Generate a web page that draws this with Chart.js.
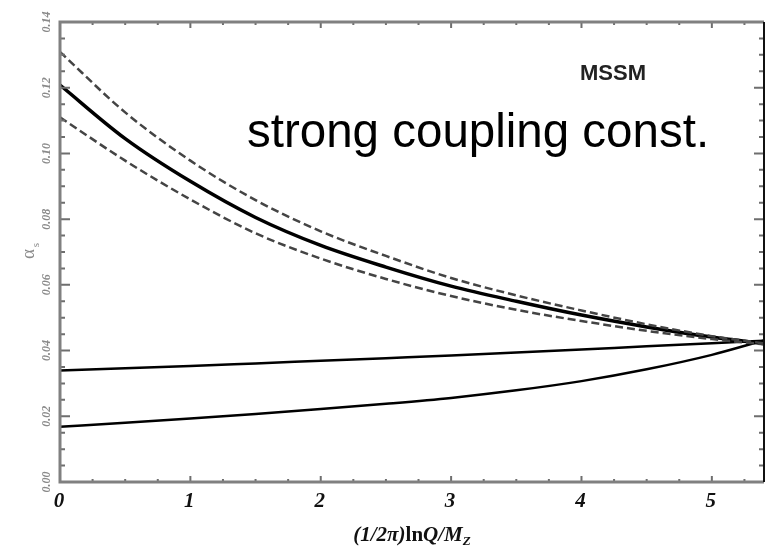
<!DOCTYPE html>
<html>
<head>
<meta charset="utf-8">
<script src="https://cdn.jsdelivr.net/npm/chart.js@4.4.0/dist/chart.umd.min.js"></script>
<style>
  html, body { margin: 0; padding: 0; background: #fff; }
  #wrap { width: 771px; height: 548px; }
</style>
</head>
<body>
<div id="wrap"><canvas id="chart" width="771" height="548"></canvas></div>
<script>
// Data: x = (1/2pi) ln Q/M_Z
const xValues = [0, 0.5, 1, 1.5, 2, 2.5, 3, 3.5, 4, 4.5, 5, 5.4];

// strong coupling (central value and its error band)
const alphaS      = [0.1208, 0.1045, 0.0915, 0.0805, 0.0720, 0.0654, 0.0596, 0.0550, 0.0508, 0.0472, 0.0441, 0.0421];
const alphaSUpper = [0.1309, 0.1125, 0.0978, 0.0858, 0.0763, 0.0688, 0.0621, 0.0568, 0.0522, 0.0480, 0.0444, 0.0422];
const alphaSLower = [0.1110, 0.0978, 0.0860, 0.0757, 0.0680, 0.0618, 0.0566, 0.0524, 0.0490, 0.0460, 0.0435, 0.0419];

// the two other couplings
const alpha1 = [0.0339, 0.0346, 0.0353, 0.0361, 0.0369, 0.0377, 0.0385, 0.0394, 0.0403, 0.0413, 0.0422, 0.0430];
const alpha2 = [0.0168, 0.0180, 0.0193, 0.0207, 0.0222, 0.0238, 0.0256, 0.0279, 0.0307, 0.0343, 0.0387, 0.0431];

// Tick labels
const xTickValues = [0, 1, 2, 3, 4, 5];
const xTickLabels = ['0', '1', '2', '3', '4', '5'];
const yTickValues = [0, 0.02, 0.04, 0.06, 0.08, 0.10, 0.12, 0.14];
const yTickLabels = ['0.00', '0.02', '0.04', '0.06', '0.08', '0.10', '0.12', '0.14'];

const toPoints = (ys) => ys.map((y, i) => ({ x: xValues[i], y: y }));

// Frame, inward ticks, labels and annotations
const framePlugin = {
    id: 'frame',
    afterDraw(chart) {
        const ctx = chart.ctx;
        const xs = chart.scales.x;
        const ys = chart.scales.y;
        const area = chart.chartArea;
        ctx.save();

        // ticks on all four sides, pointing inward
        ctx.strokeStyle = '#6e6e6e';
        ctx.lineWidth = 2;
        for (let i = 0; i <= 21; i++) {
            const v = i * 0.25;
            const px = xs.getPixelForValue(v);
            const len = (i % 4 === 0) ? 6 : 3;
            ctx.beginPath();
            ctx.moveTo(px, area.bottom);
            ctx.lineTo(px, area.bottom - len);
            ctx.moveTo(px, area.top);
            ctx.lineTo(px, area.top + len);
            ctx.stroke();
        }
        for (let i = 0; i <= 28; i++) {
            const v = i * 0.005;
            const py = ys.getPixelForValue(v);
            const len = (i % 4 === 0) ? 10 : 5;
            ctx.beginPath();
            ctx.moveTo(area.left, py);
            ctx.lineTo(area.left + len, py);
            ctx.moveTo(area.right, py);
            ctx.lineTo(area.right - len, py);
            ctx.stroke();
        }

        // frame
        ctx.lineWidth = 3;
        ctx.strokeStyle = '#808080';
        ctx.beginPath();
        ctx.moveTo(area.right, area.top);
        ctx.lineTo(area.left, area.top);
        ctx.lineTo(area.left, area.bottom);
        ctx.lineTo(area.right, area.bottom);
        ctx.stroke();
        ctx.strokeStyle = '#111';
        ctx.lineWidth = 2;
        ctx.beginPath();
        ctx.moveTo(area.right, area.top);
        ctx.lineTo(area.right, area.bottom);
        ctx.stroke();

        // y tick labels, rotated
        ctx.fillStyle = '#8a8a8a';
        ctx.font = 'italic bold 12px "Liberation Serif", serif';
        ctx.textAlign = 'center';
        ctx.textBaseline = 'middle';
        yTickValues.forEach((v, i) => {
            ctx.save();
            ctx.translate(area.left - 13, ys.getPixelForValue(v));
            ctx.rotate(-Math.PI / 2);
            ctx.fillText(yTickLabels[i], 0, 0);
            ctx.restore();
        });

        // x tick labels
        ctx.fillStyle = '#111';
        ctx.font = 'italic bold 21px "Liberation Serif", serif';
        xTickValues.forEach((v, i) => {
            ctx.fillText(xTickLabels[i], xs.getPixelForValue(v) - 1, area.bottom + 20);
        });

        // x axis title: (1/2π)ln Q/M_Z
        ctx.textAlign = 'left';
        ctx.textBaseline = 'alphabetic';
        const parts = [
            { t: '(1/2\u03c0)', f: 'italic bold 21px "Liberation Serif", serif' },
            { t: 'ln', f: 'bold 21px "Liberation Serif", serif' },
            { t: 'Q/M', f: 'italic bold 21px "Liberation Serif", serif' }
        ];
        let total = 0;
        parts.forEach(p => { ctx.font = p.f; total += ctx.measureText(p.t).width; });
        ctx.font = 'italic bold 13px "Liberation Serif", serif';
        total += ctx.measureText('Z').width;
        let tx = (area.left + area.right) / 2 - total / 2;
        const ty = area.bottom + 59;
        parts.forEach(p => {
            ctx.font = p.f;
            ctx.fillText(p.t, tx, ty);
            tx += ctx.measureText(p.t).width;
        });
        ctx.font = 'italic bold 13px "Liberation Serif", serif';
        ctx.fillText('Z', tx, ty + 4);

        // y axis title: alpha_s
        ctx.save();
        ctx.translate(34, (area.top + area.bottom) / 2 + 2);
        ctx.rotate(-Math.PI / 2);
        ctx.fillStyle = '#8a8a8a';
        ctx.font = '19px "Liberation Serif", serif';
        ctx.textAlign = 'center';
        ctx.fillText('\u03b1', 0, 0);
        ctx.font = '11px "Liberation Serif", serif';
        ctx.fillText('s', 9, 5);
        ctx.restore();

        // annotations
        ctx.fillStyle = '#222';
        ctx.font = 'bold 22px "Liberation Sans", Arial, sans-serif';
        ctx.fillText('MSSM', 580, 80);
        ctx.fillStyle = '#000';
        ctx.font = '47.5px "Liberation Sans", Arial, sans-serif';
        ctx.fillText('strong coupling const.', 247, 147);

        ctx.restore();
    }
};

const solid = (ys, w) => ({
    data: toPoints(ys),
    borderColor: '#000',
    borderWidth: w,
    pointRadius: 0,
    cubicInterpolationMode: 'monotone',
    fill: false
});
const dashed = (ys) => ({
    data: toPoints(ys),
    borderColor: '#444',
    borderWidth: 2.5,
    borderDash: [8, 4],
    pointRadius: 0,
    cubicInterpolationMode: 'monotone',
    fill: false
});

new Chart(document.getElementById('chart').getContext('2d'), {
    type: 'line',
    data: {
        datasets: [
            dashed(alphaSUpper),
            dashed(alphaSLower),
            solid(alphaS, 3.5),
            solid(alpha1, 2.5),
            solid(alpha2, 2.5)
        ]
    },
    options: {
        responsive: false,
        animation: false,
        layout: { padding: { left: 60, right: 7, top: 22, bottom: 66 } },
        plugins: {
            legend: { display: false },
            tooltip: { enabled: false }
        },
        scales: {
            x: { type: 'linear', min: 0, max: 5.4, display: false },
            y: { type: 'linear', min: 0, max: 0.14, display: false }
        }
    },
    plugins: [framePlugin]
});
</script>
</body>
</html>
